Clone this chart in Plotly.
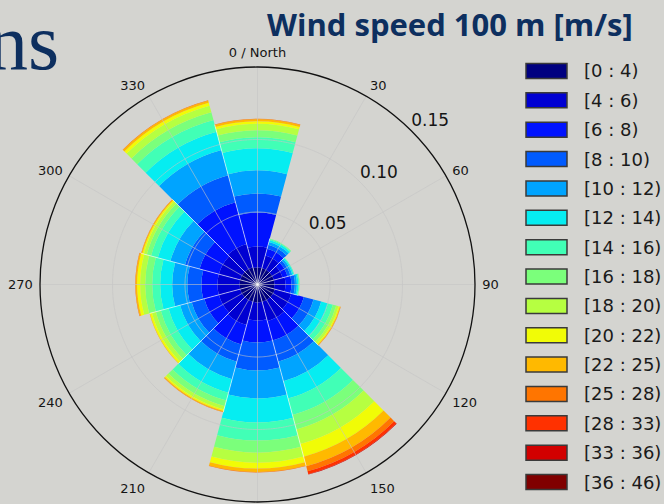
import numpy as np
import plotly.graph_objects as go

# Direction sectors (degrees from north, clockwise) and their labels
directions = [0, 30, 60, 90, 120, 150, 180, 210, 240, 270, 300, 330]
direction_labels = ["0 / North", "30", "60", "90", "120", "150",
                    "", "210", "240", "270", "300", "330"]

# Wind speed classes [m/s]
speed_bins = ["[0 : 4)", "[4 : 6)", "[6 : 8)", "[8 : 10)", "[10 : 12)",
              "[12 : 14)", "[14 : 16)", "[16 : 18)", "[18 : 20)", "[20 : 22)",
              "[22 : 25)", "[25 : 28)", "[28 : 33)", "[33 : 36)", "[36 : 46)"]

# Frequency of each speed class within each direction sector
freq_000 = [0.0117, 0.0145, 0.0235, 0.0131, 0.0159, 0.0152, 0.0076, 0.0048,
            0.0045, 0.0017, 0.0014, 0.0003, 0.0, 0.0, 0.0]
freq_030 = [0.0117, 0.0090, 0.0048, 0.0028, 0.0021, 0.0014, 0.0007, 0.0003,
            0.0, 0.0, 0.0, 0.0, 0.0, 0.0, 0.0]
freq_060 = [0.0117, 0.0062, 0.0035, 0.0021, 0.0014, 0.0009, 0.0005, 0.0,
            0.0, 0.0, 0.0, 0.0, 0.0, 0.0, 0.0]
freq_090 = [0.0117, 0.0076, 0.0041, 0.0024, 0.0014, 0.0010, 0.0006, 0.0003,
            0.0, 0.0, 0.0, 0.0, 0.0, 0.0, 0.0]
freq_120 = [0.0124, 0.0117, 0.0090, 0.0069, 0.0055, 0.0048, 0.0035, 0.0024,
            0.0017, 0.0009, 0.0005, 0.0002, 0.0, 0.0, 0.0]
freq_150 = [0.0124, 0.0138, 0.0138, 0.0152, 0.0138, 0.0124, 0.0117, 0.0104,
            0.0104, 0.0090, 0.0069, 0.0035, 0.0021, 0.0003, 0.0]
freq_180 = [0.0124, 0.0124, 0.0152, 0.0193, 0.0193, 0.0166, 0.0124, 0.0083,
            0.0069, 0.0041, 0.0024, 0.0003, 0.0, 0.0, 0.0]
freq_210 = [0.0124, 0.0166, 0.0138, 0.0124, 0.0124, 0.0097, 0.0055, 0.0041,
            0.0024, 0.0010, 0.0007, 0.0002, 0.0, 0.0, 0.0]
freq_240 = [0.0124, 0.0152, 0.0104, 0.0090, 0.0083, 0.0083, 0.0055, 0.0035,
            0.0028, 0.0014, 0.0003, 0.0, 0.0, 0.0, 0.0]
freq_270 = [0.0124, 0.0152, 0.0111, 0.0097, 0.0104, 0.0083, 0.0055, 0.0048,
            0.0035, 0.0021, 0.0010, 0.0003, 0.0, 0.0, 0.0]
freq_300 = [0.0124, 0.0152, 0.0138, 0.0104, 0.0104, 0.0090, 0.0048, 0.0031,
            0.0021, 0.0010, 0.0007, 0.0002, 0.0, 0.0, 0.0]
freq_330 = [0.0124, 0.0166, 0.0297, 0.0193, 0.0180, 0.0131, 0.0083, 0.0055,
            0.0048, 0.0021, 0.0014, 0.0003, 0.0, 0.0, 0.0]

sector_freqs = [freq_000, freq_030, freq_060, freq_090, freq_120, freq_150,
                freq_180, freq_210, freq_240, freq_270, freq_300, freq_330]

radial_ticks = [0.05, 0.10, 0.15]
radial_tick_labels = ["0.05", "0.10", "0.15"]

# Jet colormap sampled once per speed class
bin_colors = ["#000080", "#0000d2", "#0012ff", "#005bff", "#00a4ff",
              "#06edf1", "#41ffb6", "#7bff7b", "#b6ff41", "#f1fc06",
              "#ffb900", "#ff7500", "#ff3100", "#d20000", "#800000"]

BG = "#d4d4d0"
NAVY = "#0d2f5f"
FONT = "DejaVu Sans"
W, H = 664, 504
sector_width = 30
r_max = 0.15

fig = go.Figure()

# Stacked speed classes
for i, label in enumerate(speed_bins):
    fig.add_trace(go.Barpolar(
        r=[sector[i] for sector in sector_freqs],
        theta=directions,
        width=[sector_width] * len(directions),
        marker=dict(color=bin_colors[i], line=dict(width=0)),
        name=label,
        showlegend=False,
        hoverinfo="skip",
    ))

# Grid drawn over the bars
grid_color = "rgba(196,196,196,0.6)"
ring_theta = np.linspace(0, 360, 361)
for t in radial_ticks[:-1]:
    fig.add_trace(go.Scatterpolar(
        r=[t] * len(ring_theta), theta=ring_theta, mode="lines",
        line=dict(color=grid_color, width=1), showlegend=False, hoverinfo="skip"))
for d in directions:
    fig.add_trace(go.Scatterpolar(
        r=[0, r_max], theta=[d, d], mode="lines",
        line=dict(color=grid_color, width=1), showlegend=False, hoverinfo="skip"))

# White separators between neighbouring sectors
totals = [sum(s) for s in sector_freqs]
for k, d in enumerate(directions):
    edge = d + sector_width / 2
    reach = min(totals[k], totals[(k + 1) % len(directions)])
    fig.add_trace(go.Scatterpolar(
        r=[0, reach], theta=[edge, edge], mode="lines",
        line=dict(color="rgba(255,255,255,0.6)", width=1),
        showlegend=False, hoverinfo="skip"))

# Radial tick labels, set just outside their rings
fig.add_trace(go.Scatterpolar(
    r=radial_ticks, theta=[45] * len(radial_ticks),
    mode="text", text=radial_tick_labels, textposition="top right",
    textfont=dict(family=FONT, size=17, color="#151515"),
    cliponaxis=False, showlegend=False, hoverinfo="skip"))

# Legend: outlined colour swatches with class labels
shapes, annotations = [], []
row0, row_step = 71, 29.36
for i, label in enumerate(speed_bins):
    yc = row0 + row_step * i
    shapes.append(dict(
        type="rect", xref="paper", yref="paper",
        x0=526 / W, x1=567 / W, y0=1 - (yc - 7.5) / H, y1=1 - (yc + 7.5) / H,
        fillcolor=bin_colors[i], line=dict(color="#3a3a3a", width=1.5)))
    annotations.append(dict(
        x=582 / W, y=1 - yc / H, xref="paper", yref="paper",
        xanchor="left", yanchor="middle", text=label, showarrow=False,
        font=dict(family=FONT, size=18, color="#1a1a1a")))

annotations.append(dict(
    x=450 / W, y=1 - 24 / H, xref="paper", yref="paper",
    xanchor="center", yanchor="middle", text="<b>Wind speed 100 m [m/s]</b>",
    showarrow=False, font=dict(family="Open Sans", size=31, color=NAVY)))
annotations.append(dict(
    x=61 / W, y=1 - 42 / H, xref="paper", yref="paper",
    xanchor="right", yanchor="middle", text="ns",
    showarrow=False, font=dict(family="Liberation Serif", size=80, color=NAVY)))

fig.update_layout(
    width=W, height=H,
    margin=dict(l=0, r=0, t=0, b=0),
    paper_bgcolor=BG,
    showlegend=False,
    shapes=shapes,
    annotations=annotations,
    polar=dict(
        domain=dict(x=[40 / W, 475 / W], y=[2 / H, 437 / H]),
        bgcolor=BG,
        barmode="stack",
        bargap=0,
        radialaxis=dict(range=[0, r_max], showgrid=False, showline=False,
                        showticklabels=False, ticks=""),
        angularaxis=dict(
            direction="clockwise", rotation=90,
            tickmode="array", tickvals=directions, ticktext=direction_labels,
            showgrid=False, showline=True, linecolor="#111111", linewidth=1.3,
            ticks="outside", ticklen=4, tickcolor="rgba(0,0,0,0)",
            tickfont=dict(family=FONT, size=13, color="#151515"),
        ),
    ),
)

fig.write_html("out.html")
